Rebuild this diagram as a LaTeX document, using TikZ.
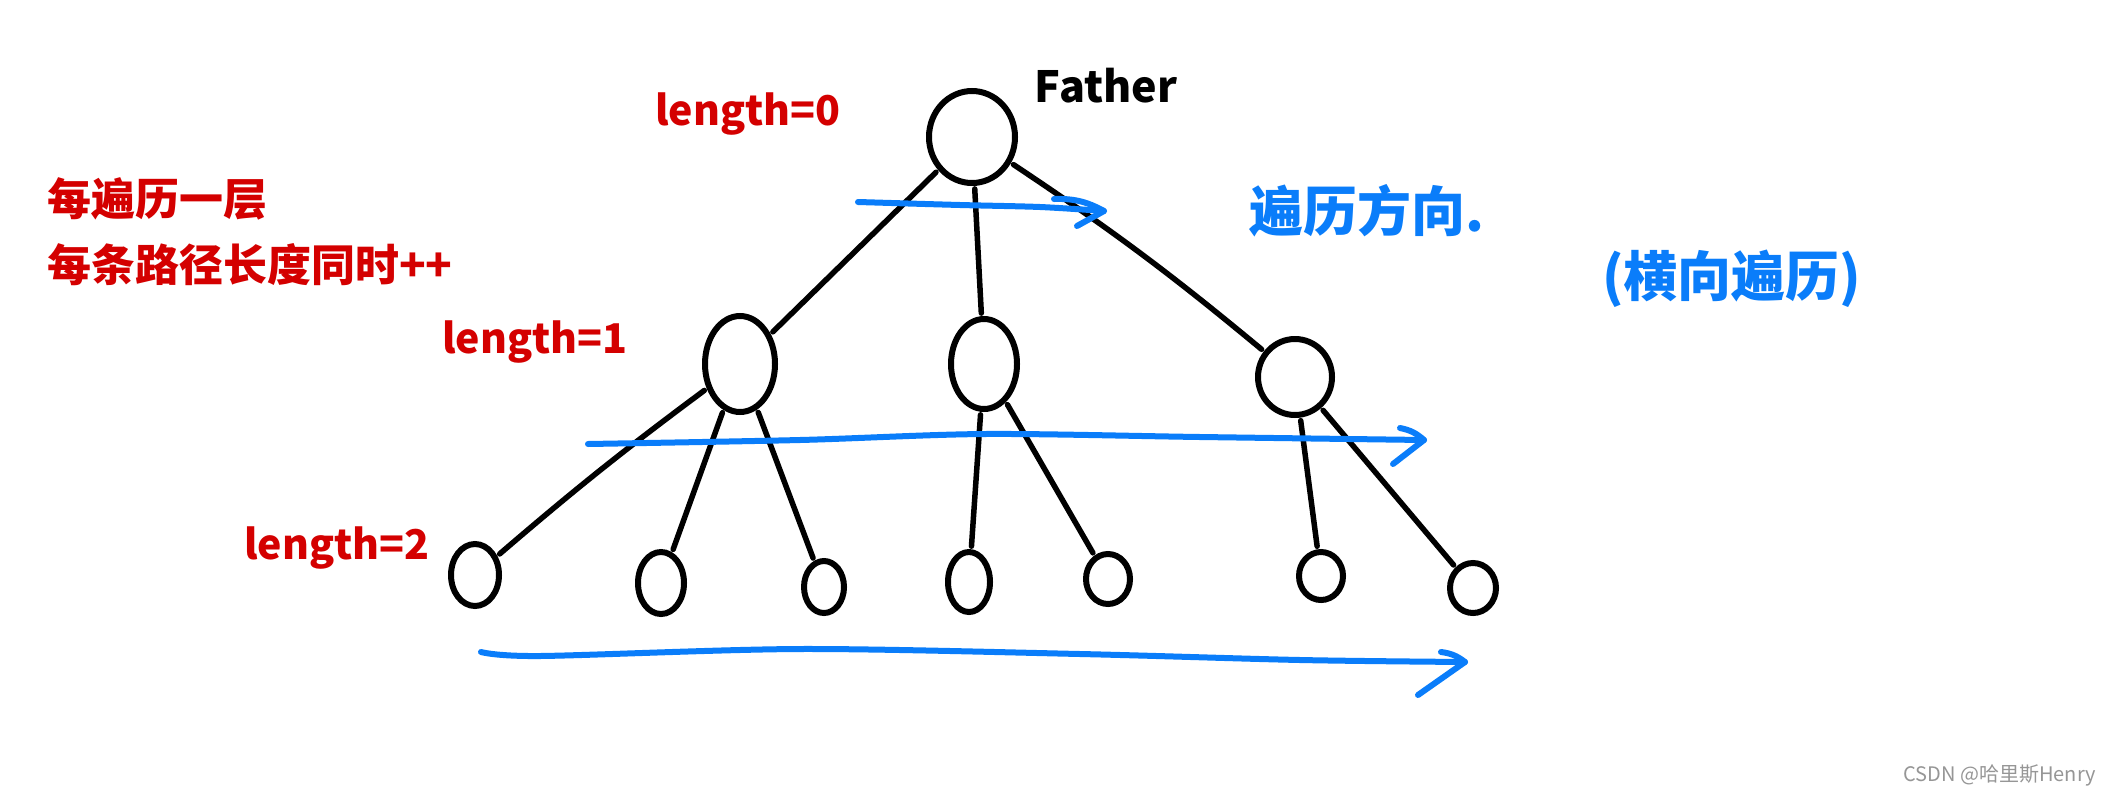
\documentclass[tikz,border=0pt]{standalone}
\usepackage{fontspec}
\newfontfamily\cjk{Noto Sans CJK SC}
\usetikzlibrary{shapes.geometric}
\definecolor{hred}{RGB}{212,0,0}
\definecolor{hblue}{RGB}{10,125,250}
\definecolor{wmgray}{RGB}{150,150,150}
\begin{document}
\begin{tikzpicture}[x=1pt,y=-1pt,
  tnode/.style={ellipse,draw=black,line width=6pt,inner sep=0pt},
  edge/.style={line width=5.5pt,black,line cap=round,shorten <=3pt,shorten >=3pt},
  flow/.style={line width=6pt,hblue,line cap=round,line join=round},
  redtxt/.style={text=hred,font=\cjk\bfseries\fontsize{44}{50}\selectfont,inner sep=0pt},
  lentxt/.style={text=hred,font=\cjk\bfseries\fontsize{41}{48}\selectfont,inner sep=0pt},
  bluetxt/.style={text=hblue,font=\cjk\bfseries\fontsize{54}{60}\selectfont,inner sep=0pt},
  blacktxt/.style={text=black,font=\cjk\bfseries\fontsize{43}{50}\selectfont,inner sep=0pt}]
\fill[white] (0,0) rectangle (2111,790);
\useasboundingbox (0,0) rectangle (2111,790);

% tree nodes
\node[tnode,minimum width=86pt,minimum height=92pt] (r) at (972,137) {};
\node[tnode,minimum width=70pt,minimum height=96pt] (l1a) at (740,364) {};
\node[tnode,minimum width=66pt,minimum height=90pt] (l1b) at (984,364) {};
\node[tnode,minimum width=74pt,minimum height=76pt] (l1c) at (1295,377) {};
\node[tnode,minimum width=48pt,minimum height=62pt] (a) at (475,575) {};
\node[tnode,minimum width=46pt,minimum height=62pt] (b) at (661,583) {};
\node[tnode,minimum width=40pt,minimum height=52pt] (c) at (824,587) {};
\node[tnode,minimum width=42pt,minimum height=60pt] (d) at (969,582) {};
\node[tnode,minimum width=44pt,minimum height=50pt] (e) at (1108,579) {};
\node[tnode,minimum width=44pt,minimum height=48pt] (f) at (1321,576) {};
\node[tnode,minimum width=46pt,minimum height=50pt] (g) at (1473,588) {};

% edges
\draw[edge] (r) -- (l1a);
\draw[edge] (r) -- (l1b);
\draw[edge] (r) to[bend left=3] (l1c);
\draw[edge] (l1a) to[bend right=2] (a);
\draw[edge] (l1a) -- (b);
\draw[edge] (l1a) -- (c);
\draw[edge] (l1b) -- (d);
\draw[edge] (l1b) -- (e);
\draw[edge] (l1c) -- (f);
\draw[edge] (l1c) -- (g);

% labels
\node[blacktxt] (father) at (1106,86) {Father};
\node[lentxt] (len0) at (748,114) {length=0};
\node[lentxt] (len1) at (535,342) {length=1};
\node[lentxt] (len2) at (337,548) {length=2};
\node[redtxt,anchor=west] (t1) at (47,199) {每遍历一层};
\node[redtxt,anchor=west] (t2) at (47,265) {每条路径长度同时++};
\node[bluetxt,anchor=west] (t3) at (1249,211) {遍历方向.};
\node[bluetxt,anchor=west] (t4) at (1602,279) {(横向遍历)};
\node[text=wmgray,font=\cjk\fontsize{20}{24}\selectfont,anchor=east,inner sep=0pt] (wm) at (2096,775) {CSDN @哈里斯Henry};

% traversal arrows
\coordinate (s0) at (858,202); \coordinate (e0) at (1104,211);
\coordinate (h0a) at (1054,199); \coordinate (h0b) at (1077,226);
\draw[flow] plot[smooth] coordinates {(s0) (960,205) (1040,207) (e0)};
\draw[flow] (h0a) to[bend left=15] (e0) -- (h0b);

\coordinate (s1) at (588,444); \coordinate (e1) at (1424,440);
\coordinate (h1a) at (1400,428); \coordinate (h1b) at (1393,464);
\draw[flow] plot[smooth] coordinates {(s1) (800,440) (985,434) (1200,437) (e1)};
\draw[flow] (h1a) to[bend left=15] (e1) -- (h1b);

\coordinate (s2) at (481,652); \coordinate (e2) at (1465,662);
\coordinate (h2a) at (1441,652); \coordinate (h2b) at (1418,695);
\draw[flow] plot[smooth] coordinates {(s2) (540,656) (800,649) (1080,654) (1300,660) (e2)};
\draw[flow] (h2a) to[bend left=15] (e2) -- (h2b);
\end{tikzpicture}
\end{document}
